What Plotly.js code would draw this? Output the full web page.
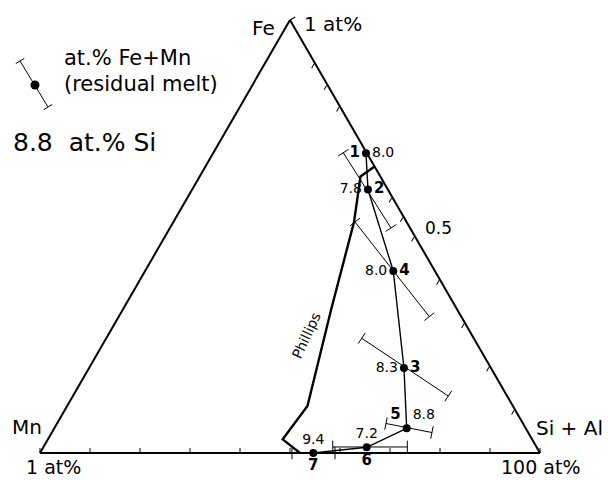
<!DOCTYPE html>
<html><head><meta charset="utf-8">
<script src="https://cdn.plot.ly/plotly-3.0.1.min.js"></script>
<style>html,body{margin:0;padding:0;background:#fff}</style>
</head><body><div id="chart" style="width:608px;height:480px"></div>
<script>
// Ternary fractions: Fe (top corner), Mn (bottom-left), Si+Al (bottom-right)
// Sample path, in the order the line connects them
const pointIds = ["1","2","4","3","5","6","7"];
const siLabels = ["8.0","7.8","8.0","8.3","8.8","7.2","9.4"];
const feVals   = [0.692, 0.6085, 0.4203, 0.1963, 0.057, 0.0132, 0.0];
const mnVals   = [0.002, 0.0398, 0.0833, 0.1739, 0.2381, 0.34, 0.4534];
const siAlVals = [0.306, 0.3517, 0.4964, 0.6298, 0.7049, 0.6468, 0.5466];
const idPos = ["middle left","middle right","middle right","middle right","top left","bottom center","bottom center"];
const siPos = ["middle right","middle left","middle left","middle left","top right","top center","top center"];

// Error bars (residual melt Fe+Mn) for points 2,4,3,5,6,7
const errFeStart = [0.6935, 0.5335, 0.2649, 0.0681, 0.0139, 0.0];
const errMnStart = [0.0467, 0.1032, 0.2241, 0.274, 0.4076, 0.496];
const errSiStart = [0.2598, 0.3633, 0.511, 0.6579, 0.5785, 0.504];
const errFeEnd   = [0.5196, 0.3148, 0.1316, 0.0473, 0.0139, 0.0];
const errMnEnd   = [0.0382, 0.064, 0.1176, 0.1924, 0.2584, 0.41];
const errSiEnd   = [0.4422, 0.6212, 0.7508, 0.7603, 0.7277, 0.59];

// Phillips curve
const phFe = [0.6617, 0.6386, 0.5335, 0.3303, 0.1085, 0.0316, 0.0];
const phMn = [0.0, 0.0397, 0.1052, 0.2528, 0.4108, 0.4988, 0.48];
const phSi = [0.3383, 0.3217, 0.3613, 0.4169, 0.4807, 0.4696, 0.52];

// Axis ticks
const bottomTicks = [0,0.1,0.2,0.3,0.4,0.5,0.6,0.7,0.8,0.9,1];   // Mn fraction along base
const rightTicks  = [0.1,0.15,0.2,0.41,0.455,0.5,0.6,0.7,0.8,0.9]; // along right edge

const FONT = "DejaVu Sans, Verdana, sans-serif";

// error-bar segments (null separated) and cap markers
const eA=[],eB=[],eC=[],cA=[],cB=[],cC=[],cAng=[];
function barAngle(a1,c1,a2,c2){
  const dx=(c2-c1)+(a2-a1)/2, dy=-(a2-a1)*Math.sqrt(3)/2;
  return Math.atan2(dy,dx)*180/Math.PI;
}
for(let i=0;i<errFeStart.length;i++){
  eA.push(errFeStart[i],errFeEnd[i],null);
  eB.push(errMnStart[i],errMnEnd[i],null);
  eC.push(errSiStart[i],errSiEnd[i],null);
  const ang=barAngle(errFeStart[i],errSiStart[i],errFeEnd[i],errSiEnd[i]);
  cA.push(errFeStart[i],errFeEnd[i]);
  cB.push(errMnStart[i],errMnEnd[i]);
  cC.push(errSiStart[i],errSiEnd[i]);
  cAng.push(ang,ang);
}

const traces=[
  {type:'scatterternary',mode:'lines',a:phFe,b:phMn,c:phSi,
   line:{color:'#000',width:2.4},hoverinfo:'skip',cliponaxis:false},
  {type:'scatterternary',mode:'lines',a:eA,b:eB,c:eC,connectgaps:false,
   line:{color:'#000',width:1},hoverinfo:'skip',cliponaxis:false},
  {type:'scatterternary',mode:'markers',a:cA,b:cB,c:cC,
   marker:{symbol:'line-ns',size:9,angle:cAng,line:{color:'#000',width:1}},
   hoverinfo:'skip',cliponaxis:false},
  {type:'scatterternary',mode:'lines+markers+text',a:feVals,b:mnVals,c:siAlVals,
   text:pointIds,textposition:idPos,
   textfont:{family:FONT,size:15,color:'#000',weight:'bold'},
   line:{color:'#000',width:1.4},marker:{color:'#000',size:8},cliponaxis:false},
  {type:'scatterternary',mode:'markers+text',a:feVals,b:mnVals,c:siAlVals,
   text:siLabels,textposition:siPos,
   textfont:{family:FONT,size:14,color:'#000'},
   marker:{color:'rgba(0,0,0,0)',size:8},hoverinfo:'skip',cliponaxis:false}
];

const M={l:40,r:68,t:20,b:27};
const PW=608-M.l-M.r, PH=480-M.t-M.b;
const px=x=>(x-M.l)/PW, py=y=>(480-M.b-y)/PH;

function ann(text,x,y,size,opts){
  return Object.assign({text:text,x:px(x),y:py(y),xref:'paper',yref:'paper',
    showarrow:false,font:{family:FONT,size:size,color:'#000'},
    xanchor:'center',yanchor:'middle'},opts||{});
}

const annotations=[
  ann('Fe',263,28,20),
  ann('1 at%',333,24,20),
  ann('0.5',438,228,17),
  ann('Mn',27,427,20),
  ann('Si + Al',569,428,20),
  ann('1 at%',53,467,19),
  ann('100 at%',540,467,19),
  ann('at.% Fe+Mn',62,58,21,{xanchor:'left'}),
  ann('(residual melt)',62,84,21,{xanchor:'left'}),
  ann('8.8\u00a0\u00a0at.% Si',11,142,25,{xanchor:'left'}),
  ann('Phillips',306,336,14,{textangle:-65})
];

// legend key: small bar with end caps and dot
const k1=[20,61], k2=[48,107];
const dx=k2[0]-k1[0], dy=k2[1]-k1[1], L=Math.hypot(dx,dy);
const nx=-dy/L*5, ny=dx/L*5;
const shapes=[
  {type:'line',xref:'paper',yref:'paper',x0:px(k1[0]),y0:py(k1[1]),x1:px(k2[0]),y1:py(k2[1]),line:{color:'#000',width:1}},
  {type:'line',xref:'paper',yref:'paper',x0:px(k1[0]-nx),y0:py(k1[1]-ny),x1:px(k1[0]+nx),y1:py(k1[1]+ny),line:{color:'#000',width:1}},
  {type:'line',xref:'paper',yref:'paper',x0:px(k2[0]-nx),y0:py(k2[1]-ny),x1:px(k2[0]+nx),y1:py(k2[1]+ny),line:{color:'#000',width:1}},
  {type:'circle',xref:'paper',yref:'paper',x0:px(30.5),x1:px(39.5),y0:py(89.5),y1:py(80.5),fillcolor:'#000',line:{color:'#000',width:0}},
  // small outward tick at the Fe apex
  {type:'line',xref:'paper',yref:'paper',x0:0.5,y0:1,x1:0.5+0.866*6/PW,y1:1+0.5*6/PH,line:{color:'#000',width:1.2}}
];
// vertical inward ticks on the base (base is the Mn axis: b=1 at left, 0 at right)
bottomTicks.forEach(b=>{
  shapes.push({type:'line',xref:'paper',yref:'paper',x0:1-b,x1:1-b,y0:0,y1:5/PH,line:{color:'#000',width:1}});
});

const axBase={showgrid:false,showticklabels:false,showline:true,linecolor:'#000',linewidth:2,
  ticks:'',title:{text:''}};
const layout={
  width:608,height:480,margin:M,showlegend:false,
  paper_bgcolor:'#fff',plot_bgcolor:'#fff',
  ternary:{sum:1,bgcolor:'#fff',domain:{x:[0,1],y:[0,1]},
    aaxis:Object.assign({},axBase),
    baxis:Object.assign({},axBase),
    caxis:Object.assign({},axBase,{ticks:'inside',ticklen:5,tickwidth:1,tickcolor:'#000',tickmode:'array',tickvals:rightTicks})
  },
  annotations:annotations,shapes:shapes
};
Plotly.newPlot('chart',traces,layout,{staticPlot:true,displayModeBar:false});
</script></body></html>
